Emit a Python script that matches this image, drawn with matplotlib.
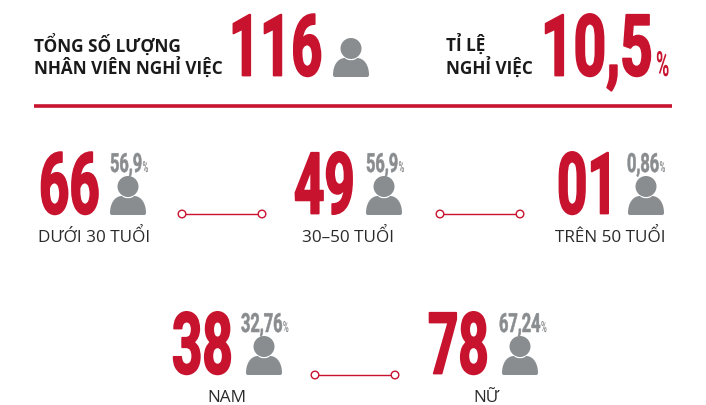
import matplotlib
matplotlib.use("Agg")
import matplotlib.pyplot as plt
from matplotlib.patches import Circle, PathPatch
from matplotlib.path import Path
from matplotlib.patheffects import AbstractPathEffect
from matplotlib.text import Text
from matplotlib.transforms import Affine2D, Bbox

RED = "#C8132F"
GREY = "#8A8D8F"
DARK = "#1A1A1A"
BIG_FONT = ["Roboto", "Liberation Sans", "DejaVu Sans"]
TXT_FONT = ["Open Sans", "DejaVu Sans"]

# --- data ---
title_total = ["TỔNG SỐ LƯỢNG", "NHÂN VIÊN NGHỈ VIỆC"]
total_value = "116"
title_rate = ["TỈ LỆ", "NGHỈ VIỆC"]
rate_value = "10,5"
group_labels = ["DƯỚI 30 TUỔI", "30–50 TUỔI", "TRÊN 50 TUỔI", "NAM", "NỮ"]
group_counts = ["66", "49", "01", "38", "78"]
group_shares = ["56,9", "56,9", "0,86", "32,76", "67,24"]


class Condense(AbstractPathEffect):
    """Narrow the glyphs of a real text object horizontally, with a slight stroke."""
    def __init__(self, sx, stroke=0.0):
        super().__init__()
        self.sx = sx
        self.stroke = stroke

    def draw_path(self, renderer, gc, tpath, affine, rgbFace=None):
        tr = Affine2D().scale(self.sx, 1) + affine
        g = renderer.new_gc()
        g.copy_properties(gc)
        g.set_linewidth(self.stroke)
        g.set_foreground(rgbFace)
        renderer.draw_path(g, tpath, tr, rgbFace)
        g.restore()


class NarrowText(Text):
    def __init__(self, *a, sx=1.0, **k):
        super().__init__(*a, **k)
        self._sx = sx

    def get_window_extent(self, renderer=None, dpi=None):
        b = super().get_window_extent(renderer, dpi)
        return Bbox.from_extents(b.x0, b.y0, b.x0 + b.width * self._sx, b.y1)


fig = plt.figure(figsize=(7.06, 4.05), dpi=100, facecolor="white")
ax = fig.add_axes([0, 0, 1, 1])
ax.set_xlim(0, 706)
ax.set_ylim(405, 0)
ax.axis("off")


def big(x, y, s, size, sx, color=RED, stroke=0.0):
    t = NarrowText(x, y, s, sx=sx, fontsize=size, color=color, family=BIG_FONT,
                   fontweight="bold", ha="left", va="baseline")
    t.set_path_effects([Condense(sx, stroke)])
    ax.add_artist(t)
    return t


def person(cx, bottom, scale=1.0):
    ax.add_patch(Circle((cx, bottom - 28.5 * scale), 10.5 * scale, fc=GREY, ec="none"))
    w, h = 18 * scale, 19 * scale
    b = bottom
    verts = [(cx - w, b - 2), (cx - w, b - h + 7 * scale), (cx - w + 5 * scale, b - h),
             (cx - w + 12 * scale, b - h), (cx - 4 * scale, b - h + 3 * scale), (cx + 4 * scale, b - h + 3 * scale),
             (cx + w - 12 * scale, b - h), (cx + w - 5 * scale, b - h), (cx + w, b - h + 7 * scale),
             (cx + w, b - 2), (cx + w, b), (cx + w - 2, b),
             (cx - w + 2, b), (cx - w, b), (cx - w, b - 2), (cx - w, b - 2)]
    codes = [Path.MOVETO] + [Path.CURVE4] * 9 + [Path.CURVE3] * 2 + [Path.LINETO] + [Path.CURVE3] * 2 + [Path.CLOSEPOLY]
    ax.add_patch(PathPatch(Path(verts, codes), fc=GREY, ec="none"))


def connector(x0, x1, y):
    ax.plot([x0, x1], [y, y], color=RED, lw=1.0, zorder=2)
    for x in (x0, x1):
        ax.add_patch(Circle((x, y), 3.8, fc="white", ec=RED, lw=1.0, zorder=3))


SX = 0.62
STROKE = 1.3
SIZE = 61.5
# header
for i, s in enumerate(title_total):
    ax.text(34, 52 + 23 * i, s, fontsize=12.3, fontweight="bold", color=DARK,
            family=TXT_FONT, ha="left", va="baseline")
big(229, 75.5, total_value, SIZE, 0.635, stroke=STROKE)
person(351, 77, 1.0)
for i, s in enumerate(title_rate):
    ax.text(446, 52 + 23 * i, s, fontsize=12.3, fontweight="bold", color=DARK,
            family=TXT_FONT, ha="left", va="baseline")
big(541, 75.5, rate_value, SIZE, 0.665, stroke=STROKE)
big(656, 76, "%", 25, 0.52)
ax.plot([34, 672], [105.5, 105.5], color=RED, lw=2.6, solid_capstyle="butt")

# groups
num_x = [39, 294, 557, 172, 428]
base_y = [213.5, 213.5, 213.5, 373.5, 373.5]
pct_x = [110, 366, 627, 241, 499]
icon_x = [128, 384, 646, 264, 520]
label_x = [94, 348, 610, 227, 486]
for i in range(5):
    big(num_x[i], base_y[i], group_counts[i], SIZE, SX, stroke=STROKE)
    p = big(pct_x[i], base_y[i] - 41.5, group_shares[i], 19, 0.62, GREY, stroke=0.4)
    fig.canvas.draw()
    w = p.get_window_extent().width
    big(pct_x[i] + w + 0.5, base_y[i] - 41.5, "%", 11, 0.52, GREY)
    person(icon_x[i], base_y[i] + 1.5, 1.0)
    ax.text(label_x[i], base_y[i] + 28.5, group_labels[i], fontsize=12.3, color="#2A2A2A",
            family=TXT_FONT, ha="center", va="baseline")

connector(182, 262, 214)
connector(440, 520, 214)
connector(315, 395, 375)

fig.savefig("out.png", dpi=100, facecolor="white")
